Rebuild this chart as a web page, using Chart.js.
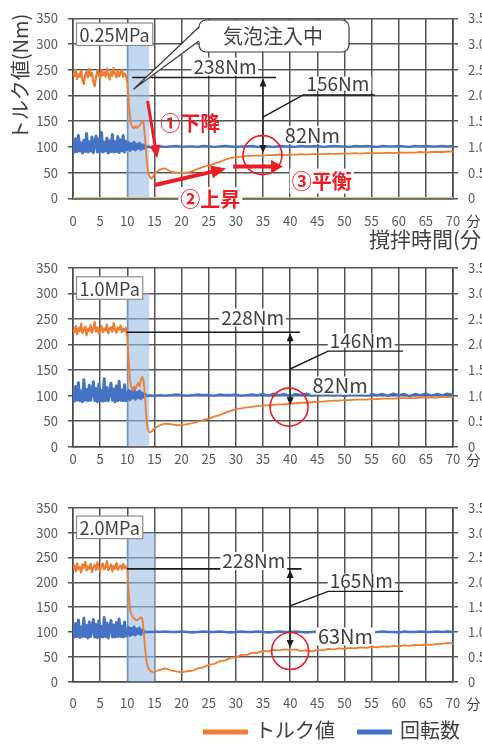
<!DOCTYPE html>
<html lang="ja">
<head>
<meta charset="utf-8">
<title>トルク値と回転数</title>
<script src="https://cdn.jsdelivr.net/npm/chart.js@4.4.1/dist/chart.umd.min.js"></script>
<style>
  html, body { margin: 0; padding: 0; background: #fff; }
  body { width: 482px; height: 744px; overflow: hidden; position: relative; }
  canvas { position: absolute; left: 0; }
</style>
</head>
<body>
<canvas id="p1" width="500" height="250" style="top:0"></canvas>
<canvas id="p2" width="500" height="240" style="top:250px"></canvas>
<canvas id="p3" width="500" height="254" style="top:490px"></canvas>
<script>
const FONT = "'Noto Sans CJK JP', 'Noto Sans', sans-serif";
const INK = '#404040';
const GRID = '#555555';
const TORQUE_COLOR = '#ed7d31';
const SPEED_COLOR = '#4472c4';
const RED = '#ee1d23';

// sampling times: every 15 s up to 15 min, then every minute
const minutes = [];
for (let i = 0; i <= 60; i++) minutes.push(i / 4);
for (let m = 16; m <= 70; m++) minutes.push(m);

const timeTicks = [0, 5, 10, 15, 20, 25, 30, 35, 40, 45, 50, 55, 60, 65, 70];
const torqueTicks = [0, 50, 100, 150, 200, 250, 300, 350];
const speedTicks = [0, 0.5, 1, 1.5, 2, 2.5, 3, 3.5];
const seriesNames = ['トルク値', '回転数'];
const pressures = ['0.25MPa', '1.0MPa', '2.0MPa'];
const injection = [[9.8, 14.1], [9.8, 14.1], [9.8, 15.2]];   // 気泡注入中 (min)
const injectionTop = 300;

// torque (Nm): 0-9.75 / 10-15 every 15 s / 16-70 every minute
const torque025 = [
  245,238,250,232,241,236,248,229,222,240,247,235,252,238,244,226,218,236,249,241,
  233,250,239,245,236,252,240,231,246,238,253,242,235,248,237,244,250,236,243,238,
  225,190,160,143,138,136,140,137,139,141,145,150,147,120,85,55,45,40,38,42,48,
  56,58,52,50,50,50,53,57,61,64,67,71,75,78,80,81,82,83,83,83,84,84,85,84,85,
  85,86,85,86,86,86,87,86,87,87,87,88,87,88,88,88,88,89,88,89,89,89,89,90,89,
  90,90,90,91,91
];
const speed025 = [
  1.04,0.90,1.16,0.91,1.22,0.92,1.08,0.88,1.13,0.91,1.26,0.90,1.10,0.92,1.19,0.89,1.09,1.21,0.90,1.15,
  0.91,1.28,0.90,1.09,0.92,1.17,0.88,1.12,0.91,1.24,0.90,1.10,0.91,1.20,0.89,1.14,0.92,1.22,0.90,1.11,
  0.95,1.08,0.93,1.06,0.96,1.09,0.94,1.05,0.97,1.07,0.95,1.04,0.97,1.03,0.99,1.00,1.01,0.99,1.00,1.01,1.00,
  1.01,1.00,1.01,1.02,1.00,1.01,1.01,1.00,1.02,1.01,1.00,1.01,1.02,1.01,1.00,1.01,1.01,1.02,1.00,1.01,
  1.01,1.00,1.02,1.01,1.01,1.00,1.02,1.01,1.01,1.02,1.00,1.01,1.02,1.01,1.01,1.00,1.02,1.01,1.02,1.01,
  1.00,1.02,1.01,1.01,1.02,1.01,1.00,1.02,1.01,1.02,1.01,1.01,1.02,1.01,1.02
];
const flag025 = [[0, 0], [70, 0]];

const torque10 = [
  230,224,236,220,232,226,241,222,229,235,218,231,226,238,223,230,244,225,233,221,
  228,236,224,231,227,239,222,230,234,225,242,228,223,233,229,237,224,231,226,232,
  215,170,130,115,110,118,112,120,125,118,130,137,130,100,60,35,29,28,30,33,36,
  42,45,44,42,42,44,46,49,52,55,59,62,66,70,73,75,77,78,80,81,
  81,82,83,83,84,85,86,86,87,88,88,89,90,90,91,91,92,92,92,93,
  93,94,94,94,95,95,95,95,96,96,96,96,97,97,97
];
const speed10 = [
  1.08,0.89,1.18,0.91,1.25,0.90,1.09,0.88,1.31,0.91,1.12,0.90,1.20,0.91,1.10,1.27,0.90,1.14,0.88,1.22,
  0.91,1.10,0.89,1.33,0.90,1.16,0.90,1.08,1.24,0.91,1.13,0.88,1.19,0.90,1.28,0.91,1.11,0.90,1.21,0.90,
  0.94,1.10,0.92,1.08,0.95,1.12,0.93,1.06,0.96,1.09,0.94,1.05,0.97,1.03,1.00,0.99,1.00,1.01,0.99,1.00,1.00,
  1.01,1.00,1.01,1.02,1.01,1.00,1.01,1.02,1.01,1.01,1.00,1.02,1.01,1.01,1.02,1.00,1.01,1.02,1.01,
  1.03,1.00,1.04,1.01,1.03,0.99,1.03,1.01,1.04,1.00,1.03,1.01,1.04,1.00,1.03,0.99,1.03,1.01,1.04,1.00,
  1.03,1.01,1.03,1.00,1.04,1.01,1.03,0.99,1.03,1.01,1.04,1.00,1.03,1.01,1.04,1.01
];

const torque20 = [
  228,234,222,238,226,231,220,236,229,241,224,232,227,237,221,230,235,225,240,228,
  223,233,238,226,231,243,224,229,236,222,233,227,239,225,230,234,226,237,228,232,
  228,180,145,135,130,127,125,124,125,127,130,128,105,70,45,30,25,22,20,19,20,
  24,27,23,21,19,21,22,27,29,34,36,41,43,48,49,54,54,58,58,62,
  61,64,63,65,64,65,62,63,61,64,63,66,65,67,66,68,67,69,68,70,
  69,71,70,72,71,73,72,74,73,75,74,76,76,78,77
];
const speed20 = [
  1.05,0.90,1.17,0.91,1.24,0.89,1.10,0.91,1.28,0.91,1.13,0.88,1.20,0.91,1.08,1.25,0.90,1.15,0.89,1.22,
  0.90,1.11,0.90,1.29,0.91,1.18,0.88,1.09,1.23,0.90,1.14,0.90,1.19,0.91,1.26,0.91,1.12,0.90,1.20,0.92,
  0.96,1.09,0.93,1.07,0.95,1.10,0.94,1.06,0.97,1.08,0.95,1.04,0.99,1.00,1.01,1.00,1.00,1.01,1.00,1.00,1.01,
  1.00,1.01,1.00,1.00,1.01,1.00,0.99,1.00,1.01,1.00,1.00,1.01,1.00,0.99,1.00,1.01,1.00,1.00,1.01,1.00,
  0.99,1.00,1.01,1.00,1.00,1.01,1.00,0.99,1.00,1.01,1.00,1.00,1.01,1.00,1.00,1.01,0.99,1.00,1.01,1.00,
  1.00,1.01,1.00,1.00,0.99,1.01,1.00,1.00,1.01,1.00,1.00,1.01,1.00,1.01,1.00
];

// annotations, in chart units (min, Nm)
const notes = [
  { level: { y: 235, x0: 10.9, x1: 37.4, text: '238Nm', tx: 28.0, ty: 256 },
    span: { x: 35, top: 235, bottom: 88 },
    leader: { pts: [[35, 158], [42.4, 201], [55.6, 201]], text: '156Nm', tx: 48.8, ty: 223 },
    last: { text: '82Nm', x: 44.1, y: 123 },
    ring: { x: 34.9, y: 84, r: 19.5 } },
  { level: { y: 224, x0: 9.9, x1: 41.8, text: '228Nm', tx: 33.1, ty: 253 },
    span: { x: 40, top: 224, bottom: 81 },
    leader: { pts: [[40, 152], [47, 187], [60.8, 187]], text: '146Nm', tx: 53.1, ty: 208 },
    last: { text: '82Nm', x: 49.2, y: 119.6 },
    ring: { x: 39.8, y: 77.5, r: 19 } },
  { level: { y: 227, x0: 9.9, x1: 42.1, text: '228Nm', tx: 33.3, ty: 243 },
    span: { x: 40, top: 227, bottom: 68 },
    leader: { pts: [[40, 152.5], [47, 181.7], [60.8, 181.7]], text: '165Nm', tx: 53.1, ty: 203 },
    last: { text: '63Nm', x: 50.2, y: 91 },
    ring: { x: 40, y: 61.7, r: 18.5 } }
];

const panels = [
  { id: 'p1', top: 18.3, bottom: 198.3, tickPad: 15, tagTop: 4.7, torque: torque025, speed: speed025 },
  { id: 'p2', top: 16, bottom: 196.7, tickPad: 5, tagTop: 9, torque: torque10, speed: speed10 },
  { id: 'p3', top: 11.7, bottom: 191.7, tickPad: 14, tagTop: 8.3, torque: torque20, speed: speed20 }
];

const toPoints = vals => vals.map((v, i) => ({ x: minutes[i], y: v }));

const line = (ctx, pts) => {
  ctx.beginPath();
  pts.forEach(([x, y], i) => i ? ctx.lineTo(x, y) : ctx.moveTo(x, y));
  ctx.stroke();
};

const head = (ctx, x, y, ang, len, half) => {
  const c = Math.cos(ang), s = Math.sin(ang);
  ctx.beginPath();
  ctx.moveTo(x, y);
  ctx.lineTo(x - len * c + half * s, y - len * s - half * c);
  ctx.lineTo(x - len * c - half * s, y - len * s + half * c);
  ctx.closePath();
  ctx.fill();
};

const arrow = (ctx, x0, y0, x1, y1, lw, len, half, color) => {
  const ang = Math.atan2(y1 - y0, x1 - x0);
  ctx.strokeStyle = color; ctx.fillStyle = color; ctx.lineWidth = lw;
  line(ctx, [[x0, y0], [x1 - len * 0.7 * Math.cos(ang), y1 - len * 0.7 * Math.sin(ang)]]);
  head(ctx, x1, y1, ang, len, half);
};

const label = (ctx, text, cx, cy, size, color, bg, weight) => {
  ctx.font = `${weight || ''} ${size}px ${FONT}`;
  ctx.textAlign = 'center';
  ctx.textBaseline = 'middle';
  if (bg) {
    const w = ctx.measureText(text).width;
    ctx.fillStyle = '#fff';
    ctx.fillRect(cx - w / 2 - 2, cy - bg / 2, w + 4, bg);
  }
  ctx.fillStyle = color;
  ctx.fillText(text, cx, cy);
};

const makeNotes = idx => ({
  id: 'notes',
  afterDatasetsDraw(chart) {
    const ctx = chart.ctx, area = chart.chartArea;
    const X = v => chart.scales.x.getPixelForValue(v);
    const Y = v => chart.scales.y.getPixelForValue(v);
    const n = notes[idx], pn = panels[idx];
    ctx.save();

    // pressure tag
    ctx.font = `18px ${FONT}`;
    const tw = ctx.measureText(pressures[idx]).width;
    const bx = area.left + 3.5, by = area.top + pn.tagTop;
    ctx.fillStyle = '#fff'; ctx.strokeStyle = '#8c8c8c'; ctx.lineWidth = 1.2;
    ctx.fillRect(bx, by, tw + 6, 22.5);
    ctx.strokeRect(bx, by, tw + 6, 22.5);
    ctx.fillStyle = INK; ctx.textAlign = 'left'; ctx.textBaseline = 'middle';
    ctx.fillText(pressures[idx], bx + 3, by + 12);

    // initial torque level
    ctx.strokeStyle = '#1a1a1a'; ctx.lineWidth = 1.6;
    line(ctx, [[X(n.level.x0), Y(n.level.y)], [X(n.level.x1), Y(n.level.y)]]);
    label(ctx, n.level.text, X(n.level.tx), Y(n.level.ty), 19, INK, 18);

    // drop span with arrows at both ends
    const sx = X(n.span.x), st = Y(n.span.top), sb = Y(n.span.bottom);
    ctx.strokeStyle = '#1a1a1a'; ctx.fillStyle = '#1a1a1a'; ctx.lineWidth = 1.3;
    line(ctx, [[sx, st + 4], [sx, sb - 4]]);
    head(ctx, sx, st + 1, -Math.PI / 2, 8, 3.5);
    head(ctx, sx, sb, Math.PI / 2, 8, 3.5);

    // difference leader: the label sits on its horizontal stroke
    ctx.lineWidth = 1.4;
    const lp = n.leader.pts.map(([x, y]) => [X(x), Y(y)]);
    label(ctx, n.leader.text, X(n.leader.tx), Y(n.leader.ty), 19, INK, 14);
    ctx.strokeStyle = '#1a1a1a';
    line(ctx, lp);

    // equilibrium torque
    label(ctx, n.last.text, X(n.last.x), Y(n.last.y), 20, INK, 18);
    ctx.strokeStyle = RED; ctx.lineWidth = 1.6;
    ctx.beginPath();
    ctx.arc(X(n.ring.x), Y(n.ring.y), n.ring.r, 0, Math.PI * 2);
    ctx.stroke();

    // unit after the last time tick
    label(ctx, '分', 473.5, area.bottom + pn.tickPad + 7.5, 14, INK);

    if (idx === 0) {
      // callout
      const tipX = X(11.15), tipY = Y(212);
      ctx.fillStyle = '#fff'; ctx.strokeStyle = '#3a3a3a'; ctx.lineWidth = 1.2;
      ctx.beginPath();
      ctx.roundRect(199, 20, 150, 32, 7);
      ctx.fill(); ctx.stroke();
      ctx.beginPath();
      ctx.moveTo(200.5, 27); ctx.lineTo(tipX, tipY); ctx.lineTo(200.5, 41);
      ctx.closePath(); ctx.fill();
      line(ctx, [[199, 27], [tipX, tipY], [199, 41]]);
      label(ctx, '気泡注入中', 273, 36.5, 20, INK);

      // red process arrows
      arrow(ctx, X(13.75), Y(189), X(15.5), Y(78), 3, 13, 5.5, RED);
      arrow(ctx, X(15.1), Y(26), X(28.2), Y(58), 4, 15, 6.5, RED);
      arrow(ctx, X(29.5), Y(61.8), X(38.7), Y(61.8), 4, 12, 6.5, RED);
      label(ctx, '①下降', X(21.6), Y(146), 20, RED, 0, 'bold');
      label(ctx, '②上昇', X(25.3), Y(-1.4), 20, RED, 24, 'bold');
      label(ctx, '③平衡', X(45.8), Y(33.6), 20, RED, 25, 'bold');

      // axis titles
      ctx.save();
      ctx.translate(20, 77);
      ctx.rotate(-Math.PI / 2);
      label(ctx, 'トルク値(Nm)', 0, 0, 20, INK);
      ctx.restore();
      ctx.font = `21px ${FONT}`;
      ctx.fillStyle = INK; ctx.textAlign = 'left'; ctx.textBaseline = 'middle';
      ctx.fillText('撹拌時間(分)', 369, 239);
    }

    if (idx === 2) {
      // legend
      const sets = chart.data.datasets;
      ctx.lineWidth = 5;
      ctx.strokeStyle = sets[0].borderColor;
      line(ctx, [[203, 242], [248, 242]]);
      ctx.strokeStyle = sets[1].borderColor;
      line(ctx, [[357, 242], [392, 242]]);
      ctx.font = `20px ${FONT}`;
      ctx.fillStyle = INK; ctx.textAlign = 'left'; ctx.textBaseline = 'middle';
      ctx.fillText(seriesNames[0], 255, 240);
      ctx.fillText(seriesNames[1], 400, 240);
    }
    ctx.restore();
  }
});

// the noisy period before and during injection is drawn a little heavier
const heavyUntil = 13.5;

panels.forEach((pn, idx) => {
  const canvas = document.getElementById(pn.id);
  const H = canvas.height;
  const datasets = [
    { label: seriesNames[0], data: toPoints(pn.torque), borderColor: TORQUE_COLOR,
      borderWidth: 1.8, yAxisID: 'y', order: 0,
      segment: { borderWidth: c => c.p1.parsed.x <= 10 ? 2.2 : 1.8 } },
    { label: seriesNames[1], data: toPoints(pn.speed), borderColor: SPEED_COLOR,
      borderWidth: 2.4, yAxisID: 'y1', order: 1,
      segment: { borderWidth: c => c.p1.parsed.x <= heavyUntil ? 3 : 2.4 } },
    { label: '気泡注入中', data: injection[idx].map(x => ({ x, y: injectionTop })),
      borderWidth: 0, fill: 'origin', backgroundColor: 'rgba(155,188,227,0.6)', yAxisID: 'y', order: 3 }
  ];
  if (idx === 0) {
    datasets.push({ label: 'flag', data: flag025.map(([x, y]) => ({ x, y })),
      borderColor: '#d8c88e', borderWidth: 2.5, yAxisID: 'y', order: 2 });
  }

  new Chart(canvas, {
    type: 'line',
    data: { datasets },
    options: {
      responsive: false,
      animation: false,
      events: [],
      layout: { padding: { top: pn.top, left: 0, right: 0, bottom: 0 } },
      elements: {
        point: { radius: 0 },
        line: { tension: 0, borderJoinStyle: 'round' }
      },
      plugins: { legend: { display: false }, tooltip: { enabled: false } },
      scales: {
        x: {
          type: 'linear', min: 0, max: 70,
          afterBuildTicks: s => { s.ticks = timeTicks.map(value => ({ value })); },
          afterFit: s => { s.height = H - pn.bottom; },
          grid: { color: GRID, lineWidth: 1.5, drawTicks: false },
          border: { color: '#4a4a4a', width: 1.6 },
          ticks: { color: '#595959', font: { size: 13, family: FONT }, padding: pn.tickPad, maxRotation: 0, autoSkip: false }
        },
        y: {
          position: 'left', min: 0, max: 350,
          afterBuildTicks: s => { s.ticks = torqueTicks.map(value => ({ value })); },
          afterFit: s => { s.width = 73; },
          grid: { color: GRID, lineWidth: 1.5, tickLength: 5 },
          border: { color: '#4a4a4a', width: 1.6 },
          ticks: { color: '#595959', font: { size: 13, family: FONT }, padding: 10 }
        },
        y1: {
          position: 'right', min: 0, max: 3.5,
          afterBuildTicks: s => { s.ticks = speedTicks.map(value => ({ value })); },
          afterFit: s => { s.width = 47; },
          grid: { drawOnChartArea: false, color: GRID, lineWidth: 1.5, tickLength: 5 },
          border: { color: '#4a4a4a', width: 1.6 },
          ticks: { color: '#595959', font: { size: 13, family: FONT }, padding: 10 }
        }
      }
    },
    plugins: [makeNotes(idx)]
  });
});
</script>
</body>
</html>
